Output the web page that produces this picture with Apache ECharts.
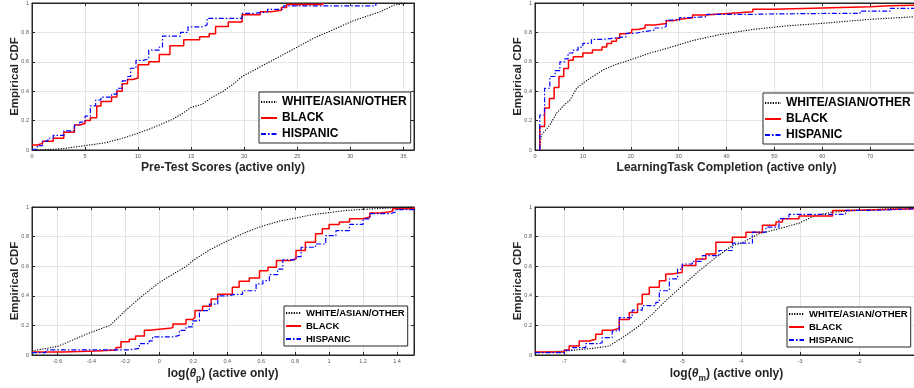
<!DOCTYPE html>
<html><head><meta charset="utf-8">
<script src="https://cdn.jsdelivr.net/npm/echarts@6/dist/echarts.min.js"></script>
<style>html,body{margin:0;padding:0;background:#fff}#c{width:914px;height:388px}</style>
</head><body><div id="c"></div>
<script>
// ---------- DATA ----------
const seriesNames = ['WHITE/ASIAN/OTHER', 'BLACK', 'HISPANIC'];
const yTicks = [0, 0.2, 0.4, 0.6, 0.8, 1];

// Panel 1: Pre-Test Scores
const p1Ticks = [0, 5, 10, 15, 20, 25, 30, 35];
const p1WhiteX = [0, 2, 3, 4, 5, 6, 7, 8, 9, 10, 11, 12, 13, 14, 15, 16, 17, 18, 19, 19.8, 22.4, 25, 26.7, 27.5, 30.3, 32.8, 34.1, 35.3];
const p1WhiteY = [0, 0.005, 0.01, 0.02, 0.03, 0.04, 0.05, 0.07, 0.09, 0.115, 0.14, 0.17, 0.2, 0.24, 0.29, 0.31, 0.36, 0.4, 0.45, 0.5, 0.6, 0.7, 0.766, 0.79, 0.88, 0.94, 0.985, 1.0];
const p1BlackX = [0, 0.5, 1, 2, 3, 4, 4.5, 5, 5.5, 6.1, 6.5, 7.5, 8, 8.5, 9, 9.5, 10, 11, 12, 13, 14.3, 15.8, 16.7, 17.3, 18.5, 19.8, 21.5, 22.5, 23.5, 24, 27.4];
const p1BlackY = [0.034, 0.045, 0.06, 0.08, 0.12, 0.17, 0.18, 0.2, 0.22, 0.3, 0.33, 0.36, 0.4, 0.45, 0.48, 0.49, 0.58, 0.6, 0.65, 0.71, 0.75, 0.77, 0.79, 0.84, 0.87, 0.92, 0.94, 0.95, 0.97, 0.99, 1.0];
const p1HispX = [0, 0.5, 1, 1.5, 2, 3, 4, 4.5, 5, 5.5, 6, 6.5, 7.5, 8, 8.5, 9, 9.3, 9.8, 10.5, 11, 12, 12.3, 14, 14.7, 16, 16.5, 19, 19.8, 21, 22.2, 23.7, 32.4];
const p1HispY = [0.005, 0.03, 0.06, 0.08, 0.1, 0.13, 0.17, 0.19, 0.23, 0.3, 0.34, 0.36, 0.38, 0.42, 0.47, 0.5, 0.556, 0.61, 0.62, 0.68, 0.7, 0.775, 0.8, 0.838, 0.85, 0.896, 0.896, 0.93, 0.94, 0.957, 0.98, 1.0];

// Panel 2: LearningTask Completion
const p2Ticks = [0, 10, 20, 30, 40, 50, 60, 70];
const p2WhiteX = [1, 1, 1.3, 3.1, 4.5, 5.9, 7.3, 8.7, 10, 12.1, 14.2, 17, 19.8, 24, 27.4, 33, 38.6, 45.5, 52.4, 60.2, 70, 80];
const p2WhiteY = [0, 0.02, 0.1, 0.17, 0.25, 0.3, 0.34, 0.42, 0.454, 0.5, 0.544, 0.583, 0.612, 0.66, 0.69, 0.745, 0.785, 0.82, 0.844, 0.862, 0.889, 0.908];
const p2BlackX = [1, 1, 2, 3, 4, 5, 6, 7, 8, 10, 12, 14, 15, 16, 17, 17.7, 19, 20.2, 21.5, 23, 25, 27.4, 29, 30.2, 32.9, 35.6, 41, 45.5, 49.7, 56, 64, 70, 74, 80];
const p2BlackY = [0, 0.16, 0.285, 0.35, 0.425, 0.5, 0.555, 0.61, 0.635, 0.66, 0.68, 0.7, 0.725, 0.74, 0.76, 0.79, 0.8, 0.82, 0.83, 0.85, 0.86, 0.88, 0.89, 0.9, 0.918, 0.93, 0.941, 0.957, 0.963, 0.97, 0.975, 0.982, 0.986, 0.986];
const p2HispX = [1, 1, 2, 3.1, 4.2, 5.2, 6.2, 6.9, 7.9, 9, 10, 11.8, 14, 16.3, 19, 21, 22.6, 25, 26.7, 27.4, 30.2, 32.4, 35.9, 44.2, 48.4, 63.7, 67.9, 74.2, 80];
const p2HispY = [0, 0.238, 0.42, 0.5, 0.54, 0.6, 0.62, 0.66, 0.68, 0.7, 0.725, 0.752, 0.76, 0.77, 0.794, 0.805, 0.816, 0.83, 0.84, 0.884, 0.9, 0.907, 0.922, 0.925, 0.93, 0.93, 0.945, 0.963, 0.963];

// Panel 3: log(theta_p)
const p3Ticks = [-0.6, -0.4, -0.2, 0, 0.2, 0.4, 0.6, 0.8, 1, 1.2, 1.4];
const p3WhiteX = [-0.75, -0.6, -0.4, -0.29, -0.2, -0.1, 0, 0.1, 0.16, 0.2, 0.295, 0.4, 0.49, 0.6, 0.71, 0.8, 0.9, 1.0, 1.1, 1.2, 1.3, 1.4, 1.49];
const p3WhiteY = [0.027, 0.058, 0.154, 0.2, 0.3, 0.4, 0.49, 0.56, 0.6, 0.64, 0.71, 0.77, 0.82, 0.869, 0.905, 0.925, 0.948, 0.962, 0.977, 0.984, 0.99, 0.995, 1.0];
const p3BlackX = [-0.75, -0.57, -0.37, -0.255, -0.226, -0.177, -0.14, -0.088, -0.06, 0.06, 0.08, 0.157, 0.196, 0.21, 0.255, 0.305, 0.344, 0.4, 0.43, 0.47, 0.53, 0.59, 0.64, 0.69, 0.77, 0.805, 0.86, 0.92, 0.96, 1.0, 1.06, 1.12, 1.2, 1.24, 1.3, 1.35, 1.375, 1.5];
const p3BlackY = [0.02, 0.027, 0.034, 0.05, 0.09, 0.106, 0.129, 0.167, 0.18, 0.186, 0.21, 0.24, 0.253, 0.3, 0.33, 0.378, 0.41, 0.41, 0.457, 0.498, 0.52, 0.57, 0.593, 0.638, 0.65, 0.706, 0.762, 0.82, 0.853, 0.882, 0.898, 0.92, 0.932, 0.96, 0.966, 0.973, 0.989, 1.0];
const p3HispX = [-0.75, -0.67, -0.255, -0.18, -0.118, -0.06, -0.04, 0.08, 0.118, 0.157, 0.196, 0.236, 0.295, 0.344, 0.4, 0.45, 0.49, 0.57, 0.61, 0.648, 0.697, 0.727, 0.805, 0.835, 0.92, 0.98, 1.04, 1.12, 1.2, 1.24, 1.36, 1.395, 1.5];
const p3HispY = [0.016, 0.034, 0.034, 0.045, 0.077, 0.095, 0.122, 0.133, 0.167, 0.19, 0.23, 0.3, 0.344, 0.4, 0.41, 0.41, 0.434, 0.48, 0.502, 0.543, 0.58, 0.643, 0.665, 0.728, 0.75, 0.807, 0.84, 0.882, 0.92, 0.955, 0.966, 0.982, 0.995];

// Panel 4: log(theta_m)
const p4Ticks = [-7, -6, -5, -4, -3, -2];
const p4WhiteX = [-7.5, -7, -6.52, -6.24, -6, -5.73, -5.51, -5.28, -5, -4.71, -4.43, -4.15, -4, -3.7, -3.36, -3.02, -2.74, -2.45, -2, -1.6, -1.32, -1];
const p4WhiteY = [0.016, 0.027, 0.045, 0.061, 0.122, 0.197, 0.276, 0.367, 0.468, 0.57, 0.66, 0.74, 0.756, 0.819, 0.853, 0.891, 0.943, 0.966, 0.977, 0.986, 0.993, 1.0];
const p4BlackX = [-7.5, -7, -6.92, -6.75, -6.58, -6.47, -6.36, -6.19, -6.07, -5.9, -5.76, -5.68, -5.56, -5.39, -5.28, -5.17, -5, -4.77, -4.6, -4.43, -4.15, -3.92, -3.64, -3.41, -3.3, -3.02, -2.45, -2.23, -1];
const p4BlackY = [0.02, 0.034, 0.061, 0.095, 0.106, 0.14, 0.167, 0.18, 0.24, 0.287, 0.344, 0.41, 0.457, 0.502, 0.547, 0.559, 0.604, 0.649, 0.683, 0.762, 0.796, 0.83, 0.876, 0.898, 0.921, 0.939, 0.977, 0.989, 1.0];
const p4HispX = [-7.5, -7, -6.86, -6.64, -6.41, -6.36, -6.19, -6.07, -5.85, -5.68, -5.45, -5.39, -5.22, -5.08, -5, -4.83, -4.66, -4.38, -4.15, -3.81, -3.58, -3.36, -3.19, -2.57, -2.23, -1.77, -1];
const p4HispY = [0.016, 0.032, 0.05, 0.077, 0.084, 0.118, 0.163, 0.253, 0.303, 0.333, 0.355, 0.434, 0.514, 0.58, 0.615, 0.633, 0.672, 0.706, 0.756, 0.83, 0.864, 0.921, 0.95, 0.95, 0.977, 0.989, 0.995];

// ---------- BUILD ----------
const FONT = '"Liberation Sans", Arial, Helvetica, sans-serif';
const panels = [
  {grid: {left: 32, top: 3, width: 382, height: 147}, min: 0, max: 36, ticks: p1Ticks,
   name: 'Pre-Test Scores (active only)', nameGap: 12,
   data: [[p1WhiteX, p1WhiteY], [p1BlackX, p1BlackY], [p1HispX, p1HispY]],
   legend: {left: 259, top: 92, fs: 12, iw: 16, ih: 12, gap: 4, pad: [4, 4, 3, 1]}},
  {grid: {left: 535, top: 3, width: 383, height: 147}, min: 0, max: 80, ticks: p2Ticks,
   name: 'LearningTask Completion (active only)', nameGap: 12,
   data: [[p2WhiteX, p2WhiteY], [p2BlackX, p2BlackY], [p2HispX, p2HispY]],
   legend: {left: 763, top: 93, fs: 12, iw: 16, ih: 12, gap: 4, pad: [4, 4, 3, 1]}},
  {grid: {left: 32, top: 207, width: 382, height: 148}, min: -0.75, max: 1.5, ticks: p3Ticks,
   name: '{a|log(}{t|θ}{s|p}{a|) (active only)}', nameGap: 10, rich: true,
   data: [[p3WhiteX, p3WhiteY], [p3BlackX, p3BlackY], [p3HispX, p3HispY]],
   legend: {left: 284, top: 306, fs: 9.5, iw: 15, ih: 10, gap: 3, pad: [2, 3, 2, 1]}},
  {grid: {left: 535, top: 207, width: 383, height: 148}, min: -7.5, max: -1, ticks: p4Ticks,
   name: '{a|log(}{t|θ}{s|m}{a|) (active only)}', nameGap: 10, rich: true,
   data: [[p4WhiteX, p4WhiteY], [p4BlackX, p4BlackY], [p4HispX, p4HispY]],
   legend: {left: 787, top: 307, fs: 9.5, iw: 15, ih: 10, gap: 3, pad: [2, 3, 2, 1]}}
];

const styles = [
  {color: '#000000', width: 1.1, type: [1.2, 1.4], step: false},
  {color: '#ff0000', width: 1.5, type: 'solid', step: 'end'},
  {color: '#0000ff', width: 1.2, type: [5, 2, 1.5, 2], step: 'end'}
];

const grid = [], xAxis = [], yAxis = [], series = [], legend = [];
const tickLab = {fontSize: 5.5, color: '#555', fontFamily: FONT};
const gridLine = {show: true, lineStyle: {color: '#e3e3e3', width: 1}};
const axLine = {show: true, onZero: false, lineStyle: {color: '#262626', width: 1}};

panels.forEach((p, i) => {
  grid.push(Object.assign({show: true, borderColor: '#262626', borderWidth: 1, backgroundColor: '#fff',
    outerBoundsMode: 'none', containLabel: false}, p.grid));
  const nameStyle = {fontSize: 12, fontWeight: 'bold', color: '#262626', fontFamily: FONT};
  if (p.rich) {
    nameStyle.rich = {
      a: {fontSize: 12, fontWeight: 'bold', color: '#262626', fontFamily: FONT},
      t: {fontSize: 12, fontWeight: 'bold', fontStyle: 'italic', color: '#262626', fontFamily: FONT},
      s: {fontSize: 8.5, fontWeight: 'bold', color: '#262626', fontFamily: FONT, padding: [9, 0, 0, 0]}
    };
  }
  xAxis.push({
    type: 'value', gridIndex: i, min: p.min, max: p.max, position: 'bottom',
    name: p.name, nameLocation: 'middle', nameGap: p.nameGap, nameTextStyle: nameStyle,
    nameMoveOverlap: false,
    axisLine: axLine,
    axisTick: {show: true, inside: true, length: 3, customValues: p.ticks, lineStyle: {color: '#262626'}},
    axisLabel: Object.assign({margin: 3, customValues: p.ticks, formatter: v => String(+v.toFixed(2))}, tickLab),
    splitLine: gridLine
  });
  xAxis.push({
    type: 'value', gridIndex: i, min: p.min, max: p.max, position: 'top',
    axisLine: axLine,
    axisTick: {show: true, inside: true, length: 3, customValues: p.ticks, lineStyle: {color: '#262626'}},
    axisLabel: {show: false}, splitLine: {show: false}
  });
  yAxis.push({
    type: 'value', gridIndex: i, min: 0, max: 1, interval: 0.2, position: 'left',
    name: 'Empirical CDF', nameLocation: 'middle', nameGap: 11, nameMoveOverlap: false,
    nameTextStyle: {fontSize: 11.5, fontWeight: 'bold', color: '#262626', fontFamily: FONT},
    axisLine: axLine,
    axisTick: {show: true, inside: true, length: 3, lineStyle: {color: '#262626'}},
    axisLabel: Object.assign({margin: 3, formatter: v => String(+v.toFixed(1))}, tickLab),
    splitLine: gridLine
  });
  yAxis.push({
    type: 'value', gridIndex: i, min: 0, max: 1, interval: 0.2, position: 'right',
    axisLine: axLine,
    axisTick: {show: true, inside: true, length: 3, lineStyle: {color: '#262626'}},
    axisLabel: {show: false}, splitLine: {show: false}
  });
  p.data.forEach((d, k) => {
    const st = styles[k];
    series.push({
      name: seriesNames[k], type: 'line', xAxisIndex: 2 * i, yAxisIndex: 2 * i,
      data: d[0].map((x, j) => [x, d[1][j]]),
      step: st.step, symbol: 'circle', showSymbol: false, smooth: false, clip: true, animation: false,
      lineStyle: {color: st.color, width: st.width, type: st.type, opacity: 1},
      itemStyle: {color: st.color, opacity: 0}, z: 2 + k
    });
  });
  const L = p.legend;
  legend.push({
    orient: 'vertical', left: L.left, top: L.top, data: seriesNames, selectedMode: false,
    itemWidth: L.iw, itemHeight: L.ih, itemGap: L.gap, padding: L.pad,
    borderColor: '#262626', borderWidth: 1, backgroundColor: '#fff',
    itemStyle: {opacity: 0},
    textStyle: {fontSize: L.fs, fontWeight: 'bold', color: '#000', fontFamily: FONT},
    z: 10
  });
});

const chart = echarts.init(document.getElementById('c'), null, {renderer: 'canvas'});
chart.setOption({animation: false, backgroundColor: '#fff', grid, xAxis, yAxis, series, legend});
</script></body></html>
